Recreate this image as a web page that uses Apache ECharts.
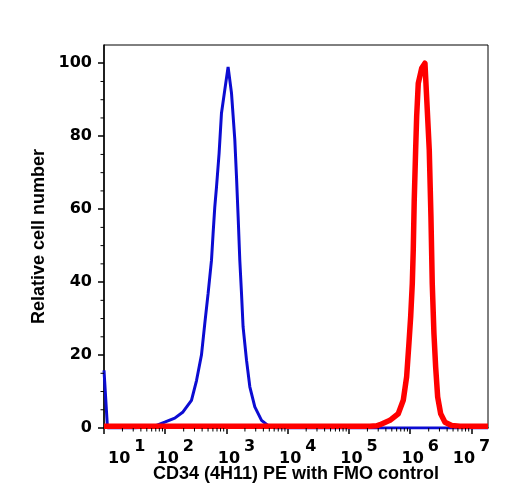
<!DOCTYPE html>
<html>
<head>
<meta charset="utf-8">
<script src="https://cdn.jsdelivr.net/npm/echarts@6/dist/echarts.min.js"></script>
<style>
  html, body { margin: 0; padding: 0; background: #fff; }
  #chart { width: 508px; height: 500px; }
</style>
</head>
<body>
<div id="chart"></div>
<script>
// isotype control (blue) - fluorescence intensity vs relative count
const blueX = [10, 11.4, 31.6, 67, 98, 143, 195, 268, 324, 390, 442, 501, 569, 604, 644, 687, 757, 828, 938, 1062,
  1207, 1367, 1456, 1549, 1649, 1758, 1866, 2122, 2404, 2900, 3733, 5096, 6562, 18600000];
const blueY = [15.8, 0, 0, 0.5, 1.6, 2.7, 4.4, 7.6, 13, 20, 28.6, 36.9, 46, 53.3, 60.6, 66.1, 75.3, 86.3, 92.7, 99,
  91.8, 79, 68.9, 57.9, 46, 36.9, 27.7, 18.6, 11.3, 5.8, 2.1, 0.3, 0, 0];

// CD34 PE stained (red)
const redX = [10, 219000, 282000, 320000, 466000, 637000, 769000, 873000, 952000, 1016000, 1080000, 1120000, 1162000,
  1225000, 1273000, 1352000, 1536000, 1738000, 1897000, 2044000, 2178000, 2287000, 2437000, 2600000, 2804000,
  3139000, 3690000, 4745000, 6480000, 18600000];
const redY = [0.5, 0.5, 0.6, 0.9, 2.1, 3.9, 7.6, 14, 23.2, 30.5, 39.6, 48.8, 62.5, 76.2, 85.4, 94.5, 98.6, 100,
  87.2, 76.2, 57.9, 39.6, 25.9, 16.7, 8.5, 3.9, 1.6, 0.7, 0.5, 0.5];

// axis ticks
const xDecades = [10, 100, 1000, 10000, 100000, 1000000, 10000000];
const xMinorMults = [2, 3, 4, 5, 6, 7, 8, 9];
const yMinorTicks = [5, 10, 15, 25, 30, 35, 45, 50, 55, 65, 70, 75, 85, 90, 95];

const xMin = 10, xMax = 18600000;
const yMin = 0, yMax = 105;

const xMinorTicks = [];
xDecades.forEach(d => xMinorMults.forEach(m => { if (d * m < xMax) xMinorTicks.push([d * m, yMin]); }));

const chart = echarts.init(document.getElementById('chart'));

const labelFont = 'DejaVu Sans';
const nameFont = 'Liberation Sans';

const option = {
  animation: false,
  grid: { left: 104, right: 20, top: 45, bottom: 72, show: true, borderColor: '#000', borderWidth: 1 },
  xAxis: {
    type: 'log',
    logBase: 10,
    min: xMin,
    max: xMax,
    name: 'CD34 (4H11) PE with FMO control',
    nameLocation: 'middle',
    nameGap: 37,
    nameMoveOverlap: false,
    nameTextStyle: { fontFamily: nameFont, fontWeight: 'bold', fontSize: 18, color: '#000' },
    axisLine: { lineStyle: { color: '#000', width: 1.5 } },
    axisTick: { inside: false, length: 6, lineStyle: { color: '#000', width: 1.5 } },
    splitLine: { show: false },
    axisLabel: {
      margin: 11,
      showMaxLabel: false,
      alignMinLabel: 'left',
      formatter: v => {
        const e = Math.round(Math.log10(v));
        if (e === 1) return '{q|}{b|10}{s|' + e + '}';
        if (e === 7) return '{b|10}{s|' + e + '}';
        return '{p|}{b|10}{s|' + e + '}';
      },
      rich: {
        p: { width: 20 },
        q: { width: 4 },
        b: { fontFamily: labelFont, fontWeight: 'bold', fontSize: 16, color: '#000', lineHeight: 28, verticalAlign: 'bottom' },
        s: { fontFamily: labelFont, fontWeight: 'bold', fontSize: 16, color: '#000', lineHeight: 16, verticalAlign: 'top', padding: [0, 0, 0, 4] }
      }
    }
  },
  yAxis: {
    type: 'value',
    min: yMin,
    max: yMax,
    interval: 20,
    name: 'Relative cell number',
    nameLocation: 'middle',
    nameGap: 55,
    nameTextStyle: { fontFamily: nameFont, fontWeight: 'bold', fontSize: 18, color: '#000' },
    axisLine: { show: true, lineStyle: { color: '#000', width: 1.5 } },
    axisTick: { inside: false, length: 6, lineStyle: { color: '#000', width: 1.5 } },
    splitLine: { show: false },
    axisLabel: {
      margin: 12,
      showMaxLabel: false,
      fontFamily: labelFont,
      fontWeight: 'bold',
      fontSize: 16,
      color: '#000'
    }
  },
  series: [
    {
      type: 'line',
      data: blueX.map((x, i) => [x, blueY[i]]),
      symbol: 'none',
      lineStyle: { color: '#0c0cd2', width: 3 },
      z: 3
    },
    {
      type: 'line',
      data: redX.map((x, i) => [x, redY[i]]),
      symbol: 'none',
      lineStyle: { color: '#ff0000', width: 5.5, join: 'round' },
      z: 4
    },
    {
      // log-spaced minor ticks on the x axis
      type: 'custom',
      silent: true,
      clip: false,
      data: xMinorTicks,
      renderItem: (params, api) => {
        const p = api.coord([api.value(0), api.value(1)]);
        return { type: 'line', shape: { x1: p[0], y1: p[1], x2: p[0], y2: p[1] + 3.5 }, style: { stroke: '#000', lineWidth: 1 } };
      },
      z: 5
    },
    {
      // minor ticks on the y axis
      type: 'custom',
      silent: true,
      clip: false,
      data: yMinorTicks.map(v => [xMin, v]),
      renderItem: (params, api) => {
        const p = api.coord([api.value(0), api.value(1)]);
        return { type: 'line', shape: { x1: p[0], y1: p[1], x2: p[0] - 3.5, y2: p[1] }, style: { stroke: '#000', lineWidth: 1 } };
      },
      z: 5
    }
  ]
};

chart.setOption(option);
</script>
</body>
</html>
